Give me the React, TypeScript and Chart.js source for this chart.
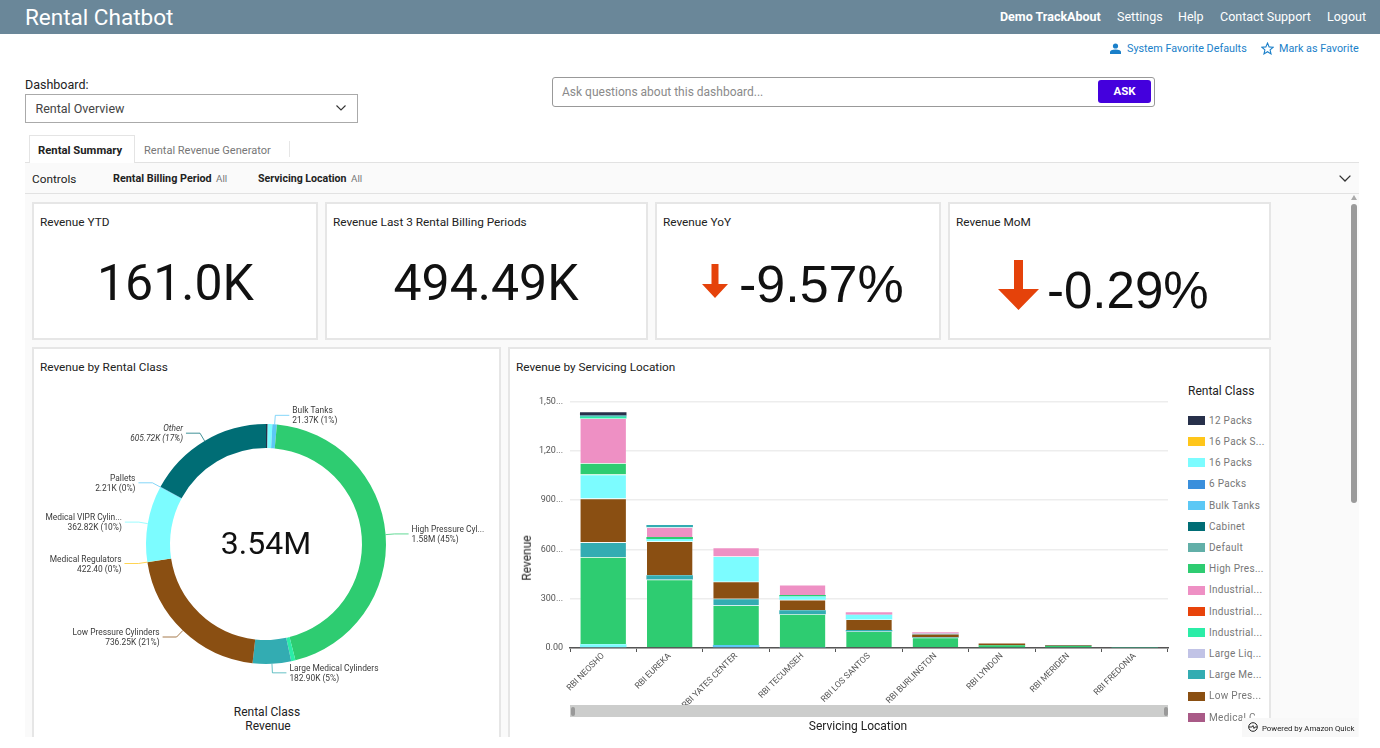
import React, { useEffect, useRef } from "react";
import { Chart, registerables } from "chart.js";

Chart.register(...registerables);

const FONT = "Roboto, sans-serif";

// ---- Doughnut data (thousands) ----
const donutClasses = ["12 Packs", "16 Packs", "Bulk Tanks", "High Pressure Cylinders", "Industrial", "Large Medical Cylinders", "Low Pressure Cylinders", "Medical Regulators", "Medical VIPR Cylinders", "Pallets", "Other"];
const donutValues = [8, 22, 21.37, 1580, 20, 182.9, 736.25, 0.4224, 362.82, 2.21, 605.72];
const donutColors = ["#27304A", "#7CFCFF", "#5CC8F5", "#2ECC71", "#2BEDA7", "#33ACB2", "#8A4F12", "#FFC61A", "#7CFCFF", "#5CC8F5", "#006D75"];
const donutNames = ["", "", "Bulk Tanks", "High Pressure Cyl...", "", "Large Medical Cylinders", "Low Pressure Cylinders", "Medical Regulators", "Medical VIPR Cylin...", "Pallets", "Other"];
const donutAmounts = ["", "", "21.37K (1%)", "1.58M (45%)", "", "182.90K (5%)", "736.25K (21%)", "422.40 (0%)", "362.82K (10%)", "2.21K (0%)", "605.72K (17%)"];
const donutTotal = "3.54M";

// ---- Stacked bars (thousands) ----
const locations = ["RBI NEOSHO", "RBI EUREKA", "RBI YATES CENTER", "RBI TECUMSEH", "RBI LOS SANTOS", "RBI BURLINGTON", "RBI LYNDON", "RBI MERIDEN", "RBI FREDONIA"];
const sixPacks = [5, null, null, null, null, null, null, null, null];
const bulkTanks = [null, null, 18, 3, null, null, null, null, null];
const sixteenPacks = [18, null, null, null, null, null, null, null, null];
const highPressure = [530, 416, 241, 203, 101, 63, 16, 12, 3];
const largeMedical = [90, 26, 41, 24, 8, 3, null, 2, 1];
const lowPressure = [266, 207, 103, 63, 65, 16, 12, 4, null];
const medicalVipr = [146, 14, 154, 20, 28, 4, null, null, null];
const unlistedClass = [69, 12, null, 10, null, null, null, null, null];
const industrialPink = [272, 59, 53, 61, 16, 10, null, null, null];
const industrialGreen = [10, null, null, null, null, null, null, null, null];
const defaultClass = [8, 14, null, null, null, null, null, null, null];
const twelvePacks = [20, null, null, null, null, null, null, null, null];

const revenueTicks = ["0.00", "300...", "600...", "900...", "1,20...", "1,50..."];

const legendNames = ["12 Packs", "16 Pack S...", "16 Packs", "6 Packs", "Bulk Tanks", "Cabinet", "Default", "High Pres...", "Industrial...", "Industrial...", "Industrial...", "Large Liq...", "Large Me...", "Low Pres...", "Medical C..."];
const legendColors = ["#27304A", "#FFC61A", "#7CFCFF", "#3A8FDC", "#5CC8F5", "#006D75", "#62AFA8", "#2ECC71", "#EE90C4", "#E8430A", "#2BEDA7", "#C1C3E6", "#33ACB2", "#8A4F12", "#A95A87"];

const navItems = ["Settings", "Help", "Contact Support", "Logout"];
const navLeft = [1117, 1178, 1220, 1327];

function T({ x, y, size = 12, color = "#222", weight = 400, children, right, center, italic, style }: any) {
  const tx = right ? "translate(-100%,-50%)" : center ? "translate(-50%,-50%)" : "translateY(-50%)";
  return (
    <div style={{ position: "absolute", left: x, top: y, fontSize: size, color, fontWeight: weight, fontStyle: italic ? "italic" : "normal", transform: tx, whiteSpace: "nowrap", lineHeight: 1.2, ...style }}>
      {children}
    </div>
  );
}

function Box({ x, y, w, h, style }: any) {
  return <div style={{ position: "absolute", left: x, top: y, width: w, height: h, boxSizing: "border-box", ...style }} />;
}

function Chevron({ x, y, size = 10 }: any) {
  return (
    <svg style={{ position: "absolute", left: x, top: y }} width={size} height={size * 0.6} viewBox="0 0 10 6">
      <path d="M0.5 0.5 L5 5 L9.5 0.5" fill="none" stroke="#333" strokeWidth="1.1" />
    </svg>
  );
}

function Arrow({ x, y, w, h, shaft, headY }: any) {
  const c = w / 2;
  return (
    <svg style={{ position: "absolute", left: x, top: y }} width={w} height={h}>
      <path d={`M${c - shaft / 2} 0 H${c + shaft / 2} V${headY} H${w} L${c} ${h} L0 ${headY} H${c - shaft / 2} Z`} fill="#E5420A" />
    </svg>
  );
}

const cardStyle = { background: "#fff", border: "2px solid #E6E6E6" };

const donutLabelPlugin = {
  id: "donutLabels",
  afterDraw(chart: any) {
    const { ctx } = chart;
    const arcs = chart.getDatasetMeta(0).data;
    const radial = 9;
    const run = 14;
    arcs.forEach((arc: any, i: number) => {
      const name = donutNames[i];
      const mid = (arc.startAngle + arc.endAngle) / 2;
      const sx = arc.x + Math.cos(mid) * arc.outerRadius;
      const sy = arc.y + Math.sin(mid) * arc.outerRadius;
      if (!name) return;
      const ex = sx + Math.cos(mid) * radial;
      const ey = sy + Math.sin(mid) * radial;
      const side = Math.cos(mid) >= -0.2 ? 1 : -1;
      const fx = ex + side * run;
      ctx.save();
      ctx.strokeStyle = donutColors[i];
      ctx.globalAlpha = 0.75;
      ctx.lineWidth = 1;
      ctx.beginPath();
      ctx.moveTo(sx, sy);
      ctx.lineTo(ex, ey);
      ctx.lineTo(fx, ey);
      ctx.stroke();
      ctx.globalAlpha = 1;
      ctx.fillStyle = "#3A3A3A";
      ctx.font = `${name === "Other" ? "italic " : ""}8.4px ${FONT}`;
      ctx.textAlign = side > 0 ? "left" : "right";
      ctx.textBaseline = "middle";
      const tx = fx + side * 3;
      ctx.fillText(name, tx, ey - 4);
      ctx.fillText(donutAmounts[i], tx, ey + 6);
      ctx.restore();
    });
    ctx.save();
    ctx.fillStyle = "#111";
    ctx.font = `32px ${FONT}`;
    ctx.textAlign = "center";
    ctx.textBaseline = "middle";
    ctx.fillText(donutTotal, arcs[0].x, arcs[0].y + 2);
    ctx.restore();
  },
};

export default function App() {
  const donutRef = useRef<HTMLCanvasElement>(null);
  const barRef = useRef<HTMLCanvasElement>(null);

  useEffect(() => {
    document.body.style.margin = "0";
    document.body.style.background = "#fff";
    const donut = new Chart(donutRef.current!, {
      type: "doughnut",
      data: {
        labels: donutClasses,
        datasets: [{ data: donutValues, backgroundColor: donutColors, borderWidth: 0, radius: 120, cutout: "80%" } as any],
      },
      options: {
        animation: false,
        responsive: false,
        plugins: { legend: { display: false }, tooltip: { enabled: false } },
      },
      plugins: [donutLabelPlugin],
    } as any);

    const series: [string, any[], string][] = [
      ["6 Packs", sixPacks, "#3A8FDC"],
      ["Bulk Tanks", bulkTanks, "#5CC8F5"],
      ["16 Packs", sixteenPacks, "#7CFCFF"],
      ["High Pressure Cylinders", highPressure, "#2ECC71"],
      ["Large Medical Cylinders", largeMedical, "#33ACB2"],
      ["Low Pressure Cylinders", lowPressure, "#8A4F12"],
      ["Medical VIPR Cylinders", medicalVipr, "#7CFCFF"],
      ["Unlisted Class", unlistedClass, "#2ECC71"],
      ["Industrial Pink", industrialPink, "#EE90C4"],
      ["Industrial Green", industrialGreen, "#2BEDA7"],
      ["Default", defaultClass, "#33ACB2"],
      ["12 Packs", twelvePacks, "#27304A"],
    ];

    const bars = new Chart(barRef.current!, {
      type: "bar",
      data: {
        labels: locations,
        datasets: series.map(([label, data, color]) => ({
          label,
          data,
          backgroundColor: color,
          borderColor: "rgba(255,255,255,0.45)",
          borderWidth: (c: any) => ((c.raw ?? 0) < 30 ? 0 : 0.6),
          barPercentage: 0.7,
          categoryPercentage: 1,
        })),
      },
      options: {
        animation: false,
        responsive: false,
        layout: { padding: { top: 0, right: 2, left: 0, bottom: 0 } },
        plugins: { legend: { display: false }, tooltip: { enabled: false } },
        scales: {
          x: {
            stacked: true,
            afterFit: (s: any) => { s.height = 88; },
            grid: { drawOnChartArea: false, drawTicks: true, tickLength: 4, color: "#555" },
            border: { color: "#555", width: 1.5 },
            ticks: { autoSkip: false, minRotation: 45, maxRotation: 45, padding: -1, color: "#555", font: { family: FONT, size: 8.6 } },
          },
          y: {
            stacked: true,
            min: 0,
            max: 1500,
            afterFit: (s: any) => { s.width = 60; },
            grid: { drawTicks: false, color: "#EDEDED", lineWidth: 1.5 },
            border: { display: false },
            ticks: { stepSize: 300, padding: 7, color: "#555", font: { family: FONT, size: 9 }, callback: (v: any) => revenueTicks[Math.round(v / 300)] },
          },
        },
      },
    } as any);

    return () => { donut.destroy(); bars.destroy(); };
  }, []);

  return (
    <div style={{ position: "fixed", left: 0, top: 0, width: 1380, height: 737, overflow: "hidden", background: "#fff", fontFamily: FONT }}>
      {/* Header */}
      <Box x={0} y={0} w={1380} h={34} style={{ background: "#6A8799" }} />
      <T x={25} y={17} size={22.5} color="#fff">Rental Chatbot</T>
      <T x={1000} y={16} size={12.5} color="#fff" weight={700}>Demo TrackAbout</T>
      {navItems.map((n, i) => <T key={n} x={navLeft[i]} y={16} size={12.5} color="#fff">{n}</T>)}

      {/* Favourite links */}
      <svg style={{ position: "absolute", left: 1110, top: 43 }} width={11} height={11} viewBox="0 0 11 11">
        <circle cx="5.5" cy="3" r="2.6" fill="#1A7FC9" />
        <path d="M0 11 V9 Q0 6.5 5.5 6.5 Q11 6.5 11 9 V11 Z" fill="#1A7FC9" />
      </svg>
      <T x={1127} y={48.5} size={10.8} color="#1A7FC9">System Favorite Defaults</T>
      <svg style={{ position: "absolute", left: 1261, top: 42 }} width={13} height={13} viewBox="0 0 24 24">
        <path d="M12 2 L15 9 L22.5 9.7 L16.8 14.6 L18.5 22 L12 18 L5.5 22 L7.2 14.6 L1.5 9.7 L9 9 Z" fill="none" stroke="#1A7FC9" strokeWidth="2" />
      </svg>
      <T x={1279} y={48.5} size={10.8} color="#1A7FC9">Mark as Favorite</T>

      {/* Dashboard select */}
      <T x={25} y={84} size={12.5} color="#222">Dashboard:</T>
      <Box x={25} y={94} w={333} h={29} style={{ border: "1px solid #AAA", background: "#fff" }} />
      <T x={35.5} y={108} size={12.5} color="#444">Rental Overview</T>
      <Chevron x={336} y={105} size={10} />

      {/* Ask bar */}
      <Box x={552} y={77} w={603} h={30} style={{ border: "1px solid #999", borderRadius: 3, background: "#fff" }} />
      <T x={562} y={92} size={12} color="#8A8A8A">Ask questions about this dashboard...</T>
      <Box x={1098} y={80} w={53} h={23} style={{ background: "#4400DD", borderRadius: 3 }} />
      <T x={1124.5} y={92} size={11.5} color="#fff" weight={700} center>ASK</T>

      {/* Tabs */}
      <Box x={29} y={135} w={106} h={28} style={{ borderTop: "1px solid #E4E4E4", borderLeft: "1px solid #E4E4E4", borderRight: "1px solid #E4E4E4", background: "#fff", zIndex: 2 }} />
      <T x={38} y={150.5} size={11.3} color="#222" weight={700} style={{ zIndex: 3 }}>Rental Summary</T>
      <T x={144} y={150.5} size={11.05} color="#777">Rental Revenue Generator</T>
      <Box x={289} y={141} w={1} h={16} style={{ background: "#E6E6E6" }} />

      {/* Controls */}
      <Box x={25} y={162} w={1334} h={32} style={{ background: "#FAFAFA", borderTop: "1px solid #E2E2E2", borderBottom: "1px solid #E2E2E2" }} />
      <T x={32} y={179} size={11.8} color="#222">Controls</T>
      <T x={113} y={179} size={10.8} color="#222" weight={700}>Rental Billing Period</T>
      <T x={216} y={179} size={9.8} color="#777">All</T>
      <T x={258} y={179} size={10.6} color="#222" weight={700}>Servicing Location</T>
      <T x={351} y={179} size={9.8} color="#777">All</T>
      <Chevron x={1339} y={175} size={12} />

      {/* Sheet */}
      <Box x={25} y={194} w={1334} h={543} style={{ background: "#FAFAFA" }} />
      <Box x={1351} y={204} w={6} h={299} style={{ background: "#9A9A9A", borderRadius: 3 }} />
      <svg style={{ position: "absolute", left: 1351, top: 195 }} width={6} height={5}><path d="M3 0 L6 5 H0 Z" fill="#AAA" /></svg>

      {/* KPI cards */}
      <Box x={32} y={202} w={286} h={138} style={cardStyle} />
      <Box x={325} y={202} w={323} h={138} style={cardStyle} />
      <Box x={655} y={202} w={286} h={138} style={cardStyle} />
      <Box x={948} y={202} w={323} h={138} style={cardStyle} />
      <T x={40} y={222} size={11.8} color="#222">Revenue YTD</T>
      <T x={333} y={222} size={11.8} color="#222">Revenue Last 3 Rental Billing Periods</T>
      <T x={663} y={222} size={11.8} color="#222">Revenue YoY</T>
      <T x={956} y={222} size={11.8} color="#222">Revenue MoM</T>
      <T x={175.5} y={283} size={50} color="#111" center>161.0K</T>
      <T x={486} y={283} size={50} color="#111" center>494.49K</T>
      <Arrow x={702} y={264} w={26} h={34} shaft={7} headY={20} />
      <T x={739} y={284} size={52} color="#111" style={{ fontFamily: "'Liberation Sans', sans-serif" }}>-9.57%</T>
      <Arrow x={998} y={260} w={41} h={50} shaft={9} headY={29} />
      <T x={1047} y={291} size={51} color="#111" style={{ fontFamily: "'Liberation Sans', sans-serif" }}>-0.29%</T>

      {/* Chart cards */}
      <Box x={32} y={347} w={469} h={400} style={cardStyle} />
      <Box x={508} y={347} w={763} h={400} style={cardStyle} />
      <T x={40} y={367} size={11.8} color="#222">Revenue by Rental Class</T>
      <T x={516} y={367} size={11.8} color="#222">Revenue by Servicing Location</T>

      <canvas ref={donutRef} width={464} height={320} style={{ position: "absolute", left: 34, top: 384, width: 464, height: 320 }} />
      <T x={267} y={712} size={12} color="#222" center>Rental Class</T>
      <T x={268} y={726} size={12} color="#222" center>Revenue</T>

      <canvas ref={barRef} width={660} height={347} style={{ position: "absolute", left: 510, top: 389, width: 660, height: 347 }} />
      <T x={527} y={558} size={12} color="#222" center style={{ transform: "translate(-50%,-50%) rotate(-90deg)" }}>Revenue</T>

      {/* Range slider */}
      <Box x={570} y={705} w={598} h={12} style={{ background: "#CCCDCC" }} />
      <Box x={570.5} y={707} w={4} h={9} style={{ background: "#999", borderRadius: 2 }} />
      <Box x={1163.5} y={707} w={4} h={9} style={{ background: "#999", borderRadius: 2 }} />
      <T x={858} y={726} size={12} color="#222" center>Servicing Location</T>

      {/* Legend */}
      <T x={1188} y={390.5} size={12} color="#222">Rental Class</T>
      {legendNames.map((n, i) => (
        <React.Fragment key={i}>
          <Box x={1188} y={416 + i * 21.2} w={17} h={9} style={{ background: legendColors[i] }} />
          <T x={1209} y={420.8 + i * 21.2} size={10} color="#777" style={{ letterSpacing: 0.3 }}>{n}</T>
        </React.Fragment>
      ))}

      {/* Badge */}
      <Box x={1242} y={718} w={116} h={19} style={{ background: "#F8F8F8" }} />
      <svg style={{ position: "absolute", left: 1248, top: 722 }} width={10} height={10} viewBox="0 0 10 10">
        <circle cx="5" cy="5" r="4.3" fill="none" stroke="#222" strokeWidth="1" />
        <path d="M1 5 H4 L5 3.5 L6 6.5 L7 5 H9" fill="none" stroke="#222" strokeWidth="0.9" />
      </svg>
      <T x={1262} y={729} size={7.8} color="#222">Powered by Amazon Quick</T>
    </div>
  );
}
